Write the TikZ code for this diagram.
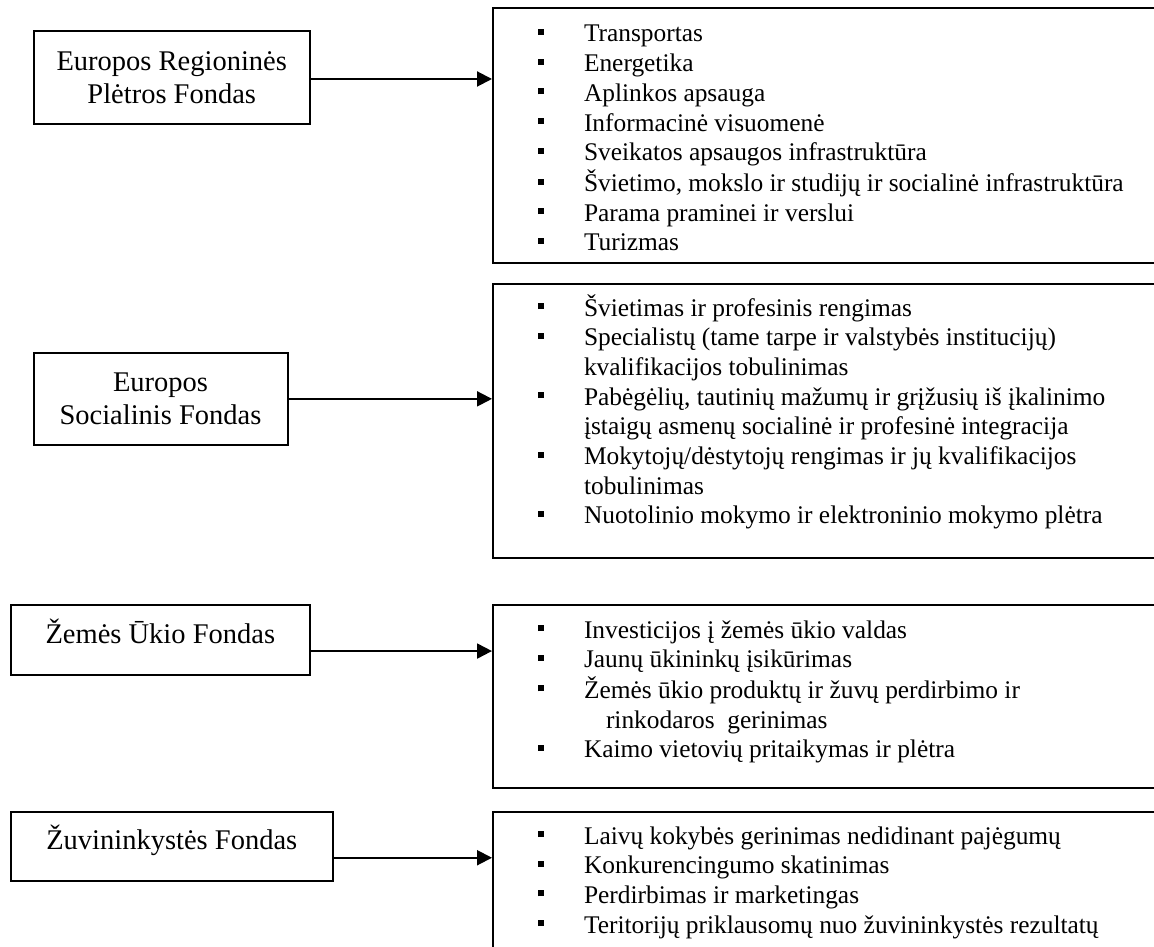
\documentclass[tikz,border=0pt]{standalone}
\usepackage{fontspec}
\setmainfont{Liberation Serif}
\usepackage{array}
\usetikzlibrary{arrows.meta, positioning}

\newcommand{\sqb}{\rule[3.5pt]{3pt}{3pt}}

\begin{document}
\begin{tikzpicture} [x = 0.5pt, y = -0.5pt,
  fund/.style = {draw, line width = 1pt, anchor = north west, inner sep = 0pt,
    align = center, font = \fontsize{14.25}{16.5}\selectfont},
  list/.style = {draw, line width = 1pt, anchor = north west, inner xsep = 22.5pt,
    inner ysep = 0pt, font = \fontsize{12.7}{14.85}\selectfont},
  link/.style = {-{Triangle[length = 7.5pt, width = 7.5pt]}, line width = 1pt}]

\clip (0,0) rectangle (1154,946);

\node (erpf) [fund, minimum width = 138.25pt, minimum height = 46.5pt] at (32.5,30)
  {Europos Regioninės\\Plėtros Fondas};
\node (esf) [fund, minimum width = 127pt, minimum height = 46.15pt] at (32.5,351.7)
  {Europos\\Socialinis Fondas};
\node (zuf) [fund, minimum width = 149.7pt, text height = 19.35pt, text depth = 15.5pt] at (9.6,604)
  {Žemės Ūkio Fondas};
\node (zf) [fund, minimum width = 161.2pt, text height = 18.65pt, text depth = 16pt] at (9.6,810.7)
  {Žuvininkystės Fondas};

% Europos Regioninės Plėtros Fondas
\node (erpfl) [list, text height = 17pt, text depth = 110.5pt] at (492,7)
  {\begin{tabular}[t]{@{}p{23pt}@{}p{300pt}@{}}
  \sqb & Transportas\\
  \sqb & Energetika\\
  \sqb & Aplinkos apsauga\\
  \sqb & Informacinė visuomenė\\
  \sqb & Sveikatos apsaugos infrastruktūra\\
  \sqb & Švietimo, mokslo ir studijų ir socialinė infrastruktūra\\
  \sqb & Parama praminei ir verslui\\
  \sqb & Turizmas
  \end{tabular}};

% Europos Socialinis Fondas
\node (esfl) [list, text height = 16pt, text depth = 121pt] at (492,283)
  {\begin{tabular}[t]{@{}p{23pt}@{}p{300pt}@{}}
  \sqb & Švietimas ir profesinis rengimas\\
  \sqb & Specialistų (tame tarpe ir valstybės institucijų)\\
       & kvalifikacijos tobulinimas\\
  \sqb & Pabėgėlių, tautinių mažumų ir grįžusių iš įkalinimo\\
       & įstaigų asmenų socialinė ir profesinė integracija\\
  \sqb & Mokytojų/dėstytojų rengimas ir jų kvalifikacijos\\
       & tobulinimas\\
  \sqb & Nuotolinio mokymo ir elektroninio mokymo plėtra
  \end{tabular}};

% Žemės Ūkio Fondas
\node (zufl) [list, text height = 16.5pt, text depth = 75pt] at (492,604)
  {\begin{tabular}[t]{@{}p{23pt}@{}p{300pt}@{}}
  \sqb & Investicijos į žemės ūkio valdas\\
  \sqb & Jaunų ūkininkų įsikūrimas\\
  \sqb & Žemės ūkio produktų ir žuvų perdirbimo ir\\
       & \hspace*{11pt}rinkodaros\ \ gerinimas\\
  \sqb & Kaimo vietovių pritaikymas ir plėtra
  \end{tabular}};

% Žuvininkystės Fondas
\node (zfl) [list, text height = 16pt, text depth = 78.5pt] at (492,811)
  {\begin{tabular}[t]{@{}p{23pt}@{}p{300pt}@{}}
  \sqb & Laivų kokybės gerinimas nedidinant pajėgumų\\
  \sqb & Konkurencingumo skatinimas\\
  \sqb & Perdirbimas ir marketingas\\
  \sqb & Teritorijų priklausomų nuo žuvininkystės rezultatų
  \end{tabular}};

\coordinate (a1) at ([yshift = -0.75pt]erpf.east);
\coordinate (a2) at (esf.east);
\coordinate (a3) at ([yshift = -5.6pt]zuf.east);
\coordinate (a4) at ([yshift = -5.7pt]zf.east);

\draw [link] (a1) -- (a1 -| erpfl.west);
\draw [link] (a2) -- (a2 -| esfl.west);
\draw [link] (a3) -- (a3 -| zufl.west);
\draw [link] (a4) -- (a4 -| zfl.west);

\end{tikzpicture}
\end{document}
